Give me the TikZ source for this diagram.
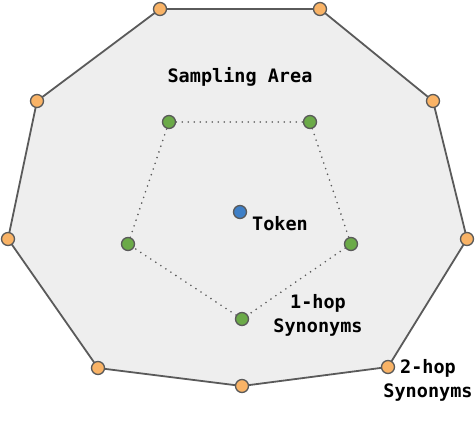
\documentclass[tikz,border=0pt]{standalone}
\usepackage{fontspec}
\setmonofont{DejaVu Sans Mono}
\usepackage{tikz}
\usetikzlibrary{backgrounds}

\definecolor{areagray}{HTML}{EEEEEE}
\definecolor{edgegray}{HTML}{5A5A5A}
\definecolor{hoptwo}{HTML}{F9B366}
\definecolor{hopone}{HTML}{6BAA48}
\definecolor{tokblue}{HTML}{3E7FC6}

\tikzset{
  dot/.style={circle, draw=edgegray, line width=1.3pt, inner sep=0pt, minimum size=13pt},
  lbl/.style={align=center, font=\ttfamily\bfseries\fontsize{18.5}{24}\selectfont}
}

\begin{document}
\begin{tikzpicture}[x=1pt, y=-1pt]
      \useasboundingbox (0,0) rectangle (476,422);

      % 2-hop ring
      \node[dot, fill=hoptwo]  (A1)  at (160,   9)  {};
      \node[dot, fill=hoptwo]  (A2)  at (320,   9)  {};
      \node[dot, fill=hoptwo]  (A3)  at (433, 101)  {};
      \node[dot, fill=hoptwo]  (A4)  at (467, 239)  {};
      \node[dot, fill=hoptwo]  (A5)  at (388, 367)  {};
      \node[dot, fill=hoptwo]  (A6)  at (242, 386)  {};
      \node[dot, fill=hoptwo]  (A7)  at ( 98, 368)  {};
      \node[dot, fill=hoptwo]  (A8)  at (  8, 239)  {};
      \node[dot, fill=hoptwo]  (A9)  at ( 37, 101)  {};

      % 1-hop ring
      \node[dot, fill=hopone]  (B1)  at (169, 122)  {};
      \node[dot, fill=hopone]  (B2)  at (310, 122)  {};
      \node[dot, fill=hopone]  (B3)  at (351, 244)  {};
      \node[dot, fill=hopone]  (B4)  at (242, 319)  {};
      \node[dot, fill=hopone]  (B5)  at (128, 244)  {};

      \node[dot, fill=tokblue] (T)   at (240, 212)  {};

      \node[lbl]  (SA)  at (240,  77)  {Sampling Area};
      \node[lbl]  (TL)  at (280, 224)  {Token};
      \node[lbl]  (H1)  at (318, 315)  {1-hop\\Synonyms};
      \node[lbl]  (H2)  at (428, 380)  {2-hop\\Synonyms};

      \begin{scope}[on background layer]
        \draw[edgegray, fill=areagray, line width=1.8pt, line join=round]
          (A1.center) -- (A2.center) -- (A3.center) -- (A4.center) -- (A5.center)
          -- (A6.center) -- (A7.center) -- (A8.center) -- (A9.center) -- cycle;
        \draw[edgegray, line width=1.8pt, line cap=round, dash pattern=on 0pt off 6pt]
          (B1) -- (B2) -- (B3) -- (B4) -- (B5) -- (B1);
      \end{scope}
    \end{tikzpicture}
\end{document}
